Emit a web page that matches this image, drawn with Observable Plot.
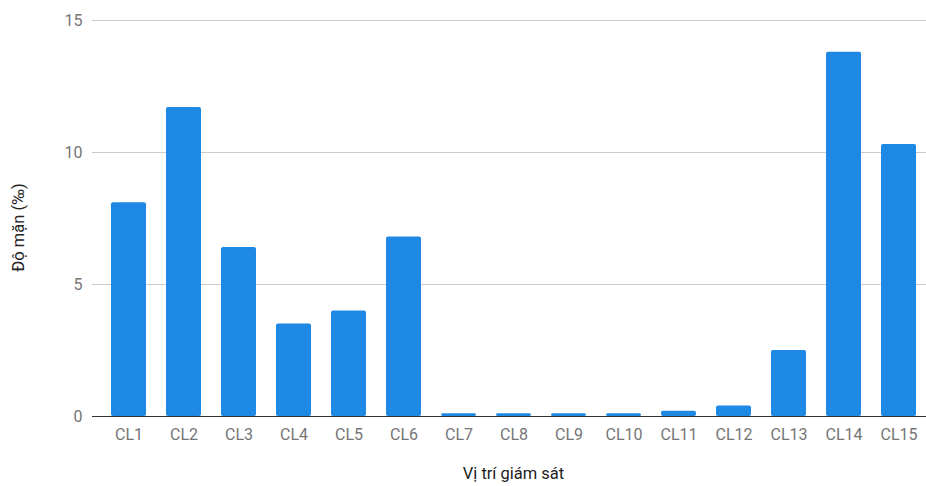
<!DOCTYPE html>
<html>
<head>
<meta charset="utf-8">
<script src="https://cdn.jsdelivr.net/npm/d3@7"></script>
<script src="https://cdn.jsdelivr.net/npm/@observablehq/plot@0.6"></script>
<style>
  html, body { margin: 0; padding: 0; background: #fff; }
  #chart { width: 926px; height: 486px; }
</style>
</head>
<body>
<div id="chart"></div>
<script>
const categories = ["CL1","CL2","CL3","CL4","CL5","CL6","CL7","CL8","CL9","CL10","CL11","CL12","CL13","CL14","CL15"];
const values = [8.1, 11.7, 6.4, 3.5, 4.0, 6.8, 0.1, 0.1, 0.1, 0.1, 0.2, 0.4, 2.5, 13.8, 10.3];
const yTicks = [0, 5, 10, 15];
const yTitle = "Độ mặn (‰)";
const xTitle = "Vị trí giám sát";

const data = categories.map((c, i) => ({cat: c, val: values[i]}));

const chart = Plot.plot({
  width: 926,
  height: 486,
  marginTop: 20,
  marginBottom: 70,
  marginLeft: 92,
  marginRight: 0,
  style: {fontFamily: "Roboto, sans-serif", background: "#fff"},
  x: {domain: categories, range: [111, 916], paddingInner: 0.364, paddingOuter: 0},
  y: {domain: [0, 15], range: [416, 20]},
  marks: [
    Plot.ruleY(yTicks.filter(d => d > 0), {stroke: "#cccccc", strokeWidth: 1}),
    Plot.barY(data, {x: "cat", y: "val", fill: "#1e88e5", rx: 2}),
    Plot.ruleY([0], {stroke: "#333333", strokeWidth: 1.2}),
    Plot.axisY({ticks: yTicks, tickSize: 0, tickPadding: 10, fontSize: 16, color: "#757575", label: null}),
    Plot.axisX({tickSize: 0, tickPadding: 12, fontSize: 16, color: "#757575", label: null}),
    Plot.text([yTitle], {frameAnchor: "left", textAnchor: "middle", dx: -74, dy: 9, rotate: -90, fontSize: 16.5, fill: "#222222", text: d => d}),
    Plot.text([xTitle], {frameAnchor: "bottom", dx: 4, dy: 62, fontSize: 16.5, fill: "#222222", text: d => d})
  ]
});
document.getElementById("chart").appendChild(chart);
</script>
</body>
</html>
